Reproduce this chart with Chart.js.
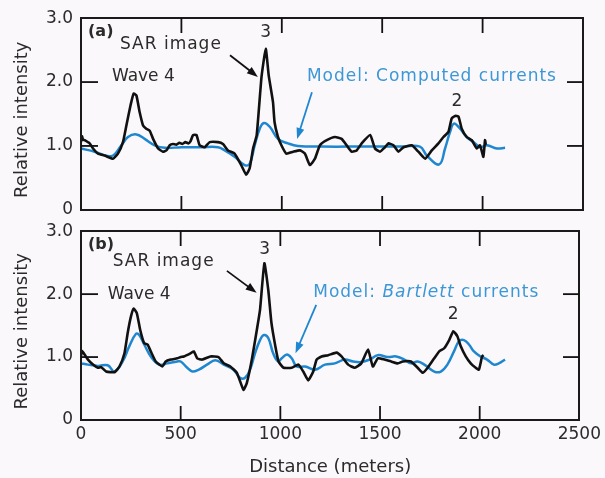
<!DOCTYPE html>
<html>
<head>
<meta charset="utf-8">
<script src="https://cdn.jsdelivr.net/npm/chart.js@4.4.1/dist/chart.umd.min.js"></script>
<style>
  body { margin: 0; background: #fbf8fb; }
  canvas { display: block; }
  #chartA { margin-bottom: -15px; }
</style>
</head>
<body>
<canvas id="chartA" width="605" height="228"></canvas>
<canvas id="chartB" width="605" height="265"></canvas>
<script>
// axis ticks
const xTicks = [0, 500, 1000, 1500, 2000, 2500];
const yTicks = [0, 1, 2, 3];

// panel (a): SAR image profile
const sarA_dist = [0, 5, 10, 18, 43, 60, 85, 118, 159, 184, 209, 226, 247, 262, 276, 292, 309, 325, 342, 359,
  384, 408, 425, 442, 458, 475, 490, 505, 520, 535, 545, 558, 575, 591, 616, 641, 682, 707, 732, 765,
  798, 823, 840, 857, 875, 899, 920, 935, 956, 964, 980, 998, 1022, 1057, 1091, 1115, 1140, 1165, 1190, 1224,
  1265, 1298, 1323, 1348, 1373, 1398, 1440, 1464, 1489, 1514, 1531, 1556, 1581, 1606, 1647, 1680, 1714, 1747, 1780, 1805,
  1830, 1846, 1863, 1880, 1896, 1921, 1946, 1971, 1987, 2004, 2012, 2016];
const sarA_val = [1.06, 1.15, 1.10, 1.09, 1.04, 0.96, 0.88, 0.85, 0.80, 0.88, 1.06, 1.32, 1.64, 1.82, 1.79, 1.53, 1.32, 1.27, 1.24, 1.11,
  0.96, 0.91, 0.93, 1.01, 1.03, 1.02, 1.05, 1.03, 1.06, 1.04, 1.07, 1.17, 1.17, 1.01, 0.98, 1.06, 1.06, 1.03, 0.93, 0.88,
  0.70, 0.55, 0.65, 0.96, 1.17, 2.08, 2.52, 2.10, 1.69, 1.37, 1.15, 1.01, 0.88, 0.91, 0.93, 0.88, 0.70, 0.80, 1.01, 1.09,
  1.14, 1.11, 1.01, 0.91, 0.93, 1.04, 1.17, 0.96, 0.91, 0.98, 1.04, 1.01, 0.91, 0.98, 1.01, 0.91, 0.80, 0.93, 1.04, 1.14,
  1.22, 1.43, 1.47, 1.46, 1.27, 1.14, 1.09, 0.96, 1.01, 0.83, 1.09, 1.02];

// panel (a): model, computed currents
const modelA_dist = [0, 68, 151, 201, 234, 276, 317, 367, 417, 500, 600, 682, 716, 765, 815, 840, 865, 890, 911, 940,
  981, 1031, 1080, 1200, 1400, 1600, 1688, 1722, 1784, 1813, 1838, 1857, 1888, 1921, 1963, 1988, 2021, 2071, 2112];
const modelA_val = [0.96, 0.91, 0.84, 1.01, 1.14, 1.18, 1.11, 1.01, 0.97, 0.98, 0.98, 0.98, 0.93, 0.83, 0.70, 0.72, 1.01, 1.27, 1.36, 1.30,
  1.11, 1.04, 1.00, 0.99, 0.99, 0.99, 0.99, 0.85, 0.71, 0.96, 1.22, 1.35, 1.27, 1.14, 1.04, 0.98, 1.01, 0.96, 0.97];

// panel (b): SAR image profile
const sarB_dist = [0, 5, 18, 35, 60, 85, 101, 126, 168, 193, 218, 234, 251, 264, 280, 297, 317, 334, 350, 375,
  408, 425, 450, 483, 500, 516, 549, 566, 583, 608, 649, 690, 716, 749, 782, 815, 832, 857, 882, 898,
  920, 940, 955, 975, 991, 1016, 1057, 1091, 1115, 1140, 1165, 1182, 1207, 1240, 1282, 1307, 1340, 1373, 1406, 1440,
  1464, 1489, 1523, 1556, 1589, 1614, 1655, 1689, 1714, 1739, 1772, 1797, 1822, 1847, 1868, 1888, 1905, 1930, 1955, 1980,
  1996, 2012, 2020];
const sarB_val = [1.02, 1.10, 1.04, 0.96, 0.88, 0.83, 0.84, 0.77, 0.76, 0.85, 1.06, 1.38, 1.65, 1.77, 1.70, 1.43, 1.22, 1.20, 1.09, 0.93,
  0.85, 0.93, 0.96, 0.98, 1.00, 1.01, 1.06, 1.09, 0.98, 0.96, 1.01, 1.00, 0.90, 0.85, 0.75, 0.48, 0.59, 0.96, 1.43, 1.75,
  2.49, 2.05, 1.55, 1.17, 0.93, 0.83, 0.83, 0.88, 0.77, 0.63, 0.77, 0.96, 1.01, 1.03, 1.07, 1.01, 0.88, 0.83, 0.90, 1.12,
  0.85, 0.98, 0.96, 0.93, 0.90, 0.93, 0.93, 0.83, 0.75, 0.83, 0.98, 1.09, 1.14, 1.27, 1.41, 1.33, 1.17, 1.01, 0.90, 0.83,
  0.80, 1.01, 1.03];

// panel (b): model, Bartlett currents
const modelB_dist = [0, 35, 85, 134, 168, 209, 242, 276, 292, 317, 350, 392, 433, 483, 500, 533, 558, 591, 632, 674,
  716, 765, 798, 823, 848, 873, 898, 918, 940, 964, 989, 1007, 1033, 1057, 1082, 1124, 1174, 1224, 1273, 1323,
  1365, 1406, 1448, 1489, 1539, 1581, 1622, 1655, 1689, 1722, 1772, 1805, 1838, 1871, 1896, 1921, 1946, 1971, 2004, 2037,
  2071, 2096, 2127];
const modelB_val = [0.90, 0.88, 0.86, 0.87, 0.77, 0.93, 1.17, 1.37, 1.35, 1.20, 1.01, 0.88, 0.90, 0.93, 0.93, 0.83, 0.77, 0.80, 0.88, 0.95,
  0.88, 0.80, 0.67, 0.67, 0.80, 1.06, 1.27, 1.35, 1.30, 1.06, 0.93, 0.98, 1.04, 0.98, 0.85, 0.85, 0.80, 0.88, 0.90, 0.96,
  0.93, 0.92, 0.96, 1.03, 1.00, 1.01, 0.96, 0.90, 0.93, 0.88, 0.77, 0.77, 0.88, 1.09, 1.25, 1.27, 1.20, 1.09, 1.01, 0.96,
  0.88, 0.90, 0.96];

const INK = '#2b2b2b';
const FRAME = '#1a1a1a';
const BLUE_LINE = '#1f87d0';
const BLUE_TEXT = '#3c97d6';
const FONT = 'DejaVu Sans';

// labels and arrows, placed in data units
const notesA = [
  { runs: [['(a)', 'bold']], x: 35, y: 2.78, color: INK, size: 16 },
  { runs: [['SAR image', '']], x: 194, y: 2.58, color: INK, size: 17, spacing: 1 },
  { runs: [['3', '']], x: 920, y: 2.77, color: INK, size: 17, align: 'center' },
  { runs: [['Wave 4', '']], x: 154, y: 2.08, color: INK, size: 17 },
  { runs: [['2', '']], x: 1872, y: 1.69, color: INK, size: 17, align: 'center' },
  { runs: [['Model: Computed currents', '']], x: 1125, y: 2.09, color: BLUE_TEXT, size: 17, spacing: 1 }
];
const arrowsA = [
  { from: [742, 2.42], to: [881, 2.08], color: '#111' },
  { from: [1150, 1.84], to: [1076, 1.11], color: BLUE_LINE }
];
const notesB = [
  { runs: [['(b)', 'bold']], x: 35, y: 2.78, color: INK, size: 16 },
  { runs: [['SAR image', '']], x: 159, y: 2.52, color: INK, size: 17, spacing: 1 },
  { runs: [['3', '']], x: 921, y: 2.71, color: INK, size: 17, align: 'center' },
  { runs: [['Wave 4', '']], x: 134, y: 2.0, color: INK, size: 17 },
  { runs: [['2', '']], x: 1867, y: 1.67, color: INK, size: 17, align: 'center' },
  { runs: [['Model: ', ''], ['Bartlett', 'italic'], [' currents', '']], x: 1165, y: 2.02, color: BLUE_TEXT, size: 17, spacing: 1 }
];
const arrowsB = [
  { from: [732, 2.37], to: [881, 2.02], color: '#111' },
  { from: [1180, 1.83], to: [1076, 1.06], color: BLUE_LINE }
];

function points(xs, ys) {
  return xs.map((d, i) => ({ x: d, y: ys[i] }));
}

function seg(ctx, x1, y1, x2, y2) {
  ctx.beginPath();
  ctx.moveTo(x1, y1);
  ctx.lineTo(x2, y2);
  ctx.stroke();
}

// box with inward ticks on all four sides, plus labels and arrows
const framePlugin = {
  id: 'frame',
  afterDraw(chart, args, opts) {
    const ctx = chart.ctx;
    const a = chart.chartArea;
    const x = chart.scales.x, y = chart.scales.y;
    const L = Math.round(a.left), R = Math.round(a.right);
    const T = Math.round(a.top), B = Math.round(a.bottom);
    ctx.save();
    ctx.fillStyle = FRAME;
    ctx.fillRect(L - 1, T - 1, R - L + 2, 2);
    ctx.fillRect(L - 1, B - 1, R - L + 2, 2);
    ctx.fillRect(L - 1, T - 1, 2, B - T + 2);
    ctx.fillRect(R - 1, T - 1, 2, B - T + 2);

    ctx.strokeStyle = '#111';
    ctx.lineWidth = 1.8;
    for (let i = 1; i < xTicks.length - 1; i++) {
      const px = x.getPixelForValue(xTicks[i]);
      seg(ctx, px, T, px, T + 15);
      seg(ctx, px, B, px, B - 14);
    }
    for (let i = 1; i < yTicks.length - 1; i++) {
      const py = y.getPixelForValue(yTicks[i]);
      seg(ctx, L, py, L + 17, py);
      seg(ctx, R, py, R - 16, py);
    }

    (opts.arrows || []).forEach(ar => {
      const x1 = x.getPixelForValue(ar.from[0]), y1 = y.getPixelForValue(ar.from[1]);
      const x2 = x.getPixelForValue(ar.to[0]), y2 = y.getPixelForValue(ar.to[1]);
      const ang = Math.atan2(y2 - y1, x2 - x1);
      const c = Math.cos(ang), s = Math.sin(ang);
      ctx.strokeStyle = ar.color;
      ctx.fillStyle = ar.color;
      ctx.lineWidth = 1.8;
      seg(ctx, x1, y1, x2 - 8 * c, y2 - 8 * s);
      ctx.beginPath();
      ctx.moveTo(x2, y2);
      ctx.lineTo(x2 - 11 * c + 4 * s, y2 - 11 * s - 4 * c);
      ctx.lineTo(x2 - 11 * c - 4 * s, y2 - 11 * s + 4 * c);
      ctx.closePath();
      ctx.fill();
    });

    (opts.notes || []).forEach(n => {
      ctx.letterSpacing = (n.spacing || 0) + 'px';
      ctx.fillStyle = n.color;
      ctx.textBaseline = 'middle';
      ctx.textAlign = 'left';
      const fontFor = style => (style === 'bold' ? 'bold ' : style === 'italic' ? 'italic ' : '') + n.size + 'px "' + FONT + '"';
      let total = 0;
      n.runs.forEach(r => { ctx.font = fontFor(r[1]); total += ctx.measureText(r[0]).width; });
      let px = x.getPixelForValue(n.x);
      if (n.align === 'center') px -= total / 2;
      const py = y.getPixelForValue(n.y);
      n.runs.forEach(r => {
        ctx.font = fontFor(r[1]);
        ctx.fillText(r[0], px, py);
        px += ctx.measureText(r[0]).width;
      });
    });
    ctx.letterSpacing = '0px';
    ctx.restore();
  }
};

function makeChart(id, sarPts, modelPts, notes, arrows, bottom) {
  return new Chart(document.getElementById(id), {
    type: 'line',
    data: {
      datasets: [{
        label: 'SAR image',
        data: sarPts,
        borderColor: '#111',
        borderWidth: 2.6,
        pointRadius: 0,
        tension: 0.15
      }, {
        label: 'Model',
        data: modelPts,
        borderColor: BLUE_LINE,
        borderWidth: 2.5,
        pointRadius: 0,
        tension: 0.4
      }]
    },
    options: {
      responsive: false,
      animation: false,
      layout: {
        padding: { left: 0, right: 22, top: bottom ? 15 : 16, bottom: bottom ? 0 : 5 }
      },
      scales: {
        x: {
          type: 'linear',
          min: 0,
          max: 2500,
          display: bottom,
          afterBuildTicks: s => { s.ticks = xTicks.map(v => ({ value: v })); },
          afterFit: s => { s.height = bottom ? 58 : 0; },
          grid: { display: false, drawTicks: false },
          border: { display: false },
          ticks: {
            color: INK,
            padding: 4,
            maxRotation: 0,
            font: { family: FONT, size: 17 },
            callback: v => String(v)
          },
          title: {
            display: true,
            text: 'Distance (meters)',
            color: INK,
            padding: { top: 0, bottom: 0 },
            font: { family: FONT, size: 18 }
          }
        },
        y: {
          min: 0,
          max: 3,
          afterBuildTicks: s => { s.ticks = yTicks.map(v => ({ value: v })); },
          afterFit: s => { s.width = 81; },
          grid: { display: false, drawTicks: false },
          border: { display: false },
          ticks: {
            color: INK,
            padding: 8,
            font: { family: FONT, size: 17 },
            callback: v => (v === 0 ? '0' : v.toFixed(1))
          },
          title: {
            display: true,
            text: 'Relative intensity  ',
            color: INK,
            padding: { top: 12, bottom: 0 },
            font: { family: FONT, size: 18 }
          }
        }
      },
      plugins: {
        legend: { display: false },
        tooltip: { enabled: false },
        frame: { notes: notes, arrows: arrows }
      }
    },
    plugins: [framePlugin]
  });
}

makeChart('chartA', points(sarA_dist, sarA_val), points(modelA_dist, modelA_val), notesA, arrowsA, false);
makeChart('chartB', points(sarB_dist, sarB_val), points(modelB_dist, modelB_val), notesB, arrowsB, true);
</script>
</body>
</html>
